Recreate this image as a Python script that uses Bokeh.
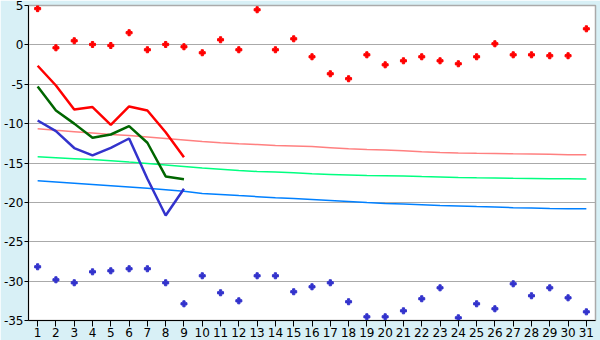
from bokeh.plotting import figure
from bokeh.models import ColumnDataSource, FixedTicker
from bokeh.embed import file_html
from bokeh.resources import INLINE

days = list(range(1, 32))
day_labels = [str(d) for d in days]
y_ticks = [-35, -30, -25, -20, -15, -10, -5, 0, 5]
y_labels = ["-35", "-30", "-25", "-20", "-15", "-10", "-5", "0", "5"]

max_pts = [4.6, -0.37, 0.52, 0.05, -0.08, 1.54, -0.62, 0.05, -0.24, -1.0,
           0.65, -0.62, 4.46, -0.62, 0.77, -1.51, -3.67, -4.3, -1.26, -2.53,
           -2.02, -1.51, -2.02, -2.4, -1.51, 0.14, -1.26, -1.26, -1.38, -1.38, 2.04]
min_pts = [-28.18, -29.83, -30.21, -28.82, -28.69, -28.43, -28.43, -30.21, -32.88, -29.32,
           -31.48, -32.5, -29.32, -29.32, -31.35, -30.72, -30.21, -32.62, -34.53, -34.53,
           -33.77, -32.24, -30.85, -34.66, -32.88, -33.51, -30.34, -31.86, -30.85, -32.12, -33.9]

cur_days = [1, 2, 3, 4, 5, 6, 7, 8, 9]
cur_max = [-2.65, -5.16, -8.2, -7.9, -10.15, -7.82, -8.33, -11.1, -14.26]
cur_mean = [-5.28, -8.33, -10.0, -11.8, -11.38, -10.32, -12.43, -16.71, -17.05]
cur_min = [-9.6, -10.96, -13.1, -14.04, -13.07, -11.89, -17.0, -21.66, -18.27]

norm_max = [-10.66, -10.85, -11.02, -11.2, -11.38, -11.52, -11.7, -11.88, -12.08, -12.28,
            -12.43, -12.55, -12.66, -12.78, -12.84, -12.92, -13.05, -13.18, -13.28, -13.34,
            -13.44, -13.56, -13.66, -13.72, -13.77, -13.8, -13.83, -13.85, -13.88, -13.94, -13.96]
norm_mean = [-14.21, -14.33, -14.45, -14.57, -14.7, -14.88, -15.05, -15.25, -15.45, -15.65,
             -15.8, -15.95, -16.08, -16.14, -16.24, -16.37, -16.45, -16.52, -16.6, -16.63,
             -16.66, -16.73, -16.78, -16.84, -16.88, -16.9, -16.95, -16.97, -16.99, -17.0, -17.02]
norm_min = [-17.26, -17.42, -17.58, -17.74, -17.9, -18.06, -18.22, -18.4, -18.6, -18.86,
            -19.0, -19.14, -19.27, -19.4, -19.52, -19.64, -19.77, -19.9, -20.03, -20.15,
            -20.2, -20.3, -20.4, -20.45, -20.53, -20.6, -20.67, -20.72, -20.78, -20.8, -20.82]

month = ColumnDataSource(dict(day=days, hi=max_pts, lo=min_pts,
                              nmax=norm_max, nmean=norm_mean, nmin=norm_min))
cur = ColumnDataSource(dict(day=cur_days, hi=cur_max, mean=cur_mean, lo=cur_min))

p = figure(width=600, height=340, x_range=(0.5, 31.5), y_range=(-35, 5),
           output_backend="svg", toolbar_location=None,
           min_border_left=26, min_border_right=5, min_border_top=5, min_border_bottom=20)
p.background_fill_color = "white"
p.border_fill_color = "#d8f0f6"
p.outline_line_color = "#aaaaaa"
p.outline_line_width = 1.5

p.xgrid.visible = False
p.ygrid.grid_line_color = "#aaaaaa"
p.ygrid.grid_line_width = 1

p.xaxis.ticker = FixedTicker(ticks=days)
p.xaxis.major_label_overrides = {d: s for d, s in zip(days, day_labels)}
p.yaxis.ticker = FixedTicker(ticks=y_ticks)
p.yaxis.major_label_overrides = {t: s for t, s in zip(y_ticks, y_labels)}
p.ygrid.ticker = FixedTicker(ticks=y_ticks)

for ax in (p.xaxis, p.yaxis):
    ax.axis_line_color = "black"
    ax.major_tick_line_color = "black"
    ax.minor_tick_line_color = None
    ax.major_tick_in = 0
    ax.major_label_text_font = "DejaVu Sans"
    ax.major_label_text_font_size = "12px"
    ax.major_label_text_color = "black"
p.xaxis.major_tick_out = 6
p.xaxis.major_label_standoff = 1
p.yaxis.major_tick_out = 4
p.yaxis.major_label_standoff = 1

p.line("day", "nmax", source=month, color="#ff8080", line_width=1.5)
p.line("day", "nmean", source=month, color="#00ff80", line_width=1.5)
p.line("day", "nmin", source=month, color="#0080ff", line_width=1.5)

p.line("day", "hi", source=cur, color="#ff0000", line_width=2.5)
p.line("day", "mean", source=cur, color="#006600", line_width=2.5)
p.line("day", "lo", source=cur, color="#3333cc", line_width=2.5)

p.scatter("day", "hi", source=month, marker="plus", size=6, color="#ff0000")
p.scatter("day", "lo", source=month, marker="plus", size=6, color="#3333cc")

open("out.html", "w").write(file_html(p, INLINE))
